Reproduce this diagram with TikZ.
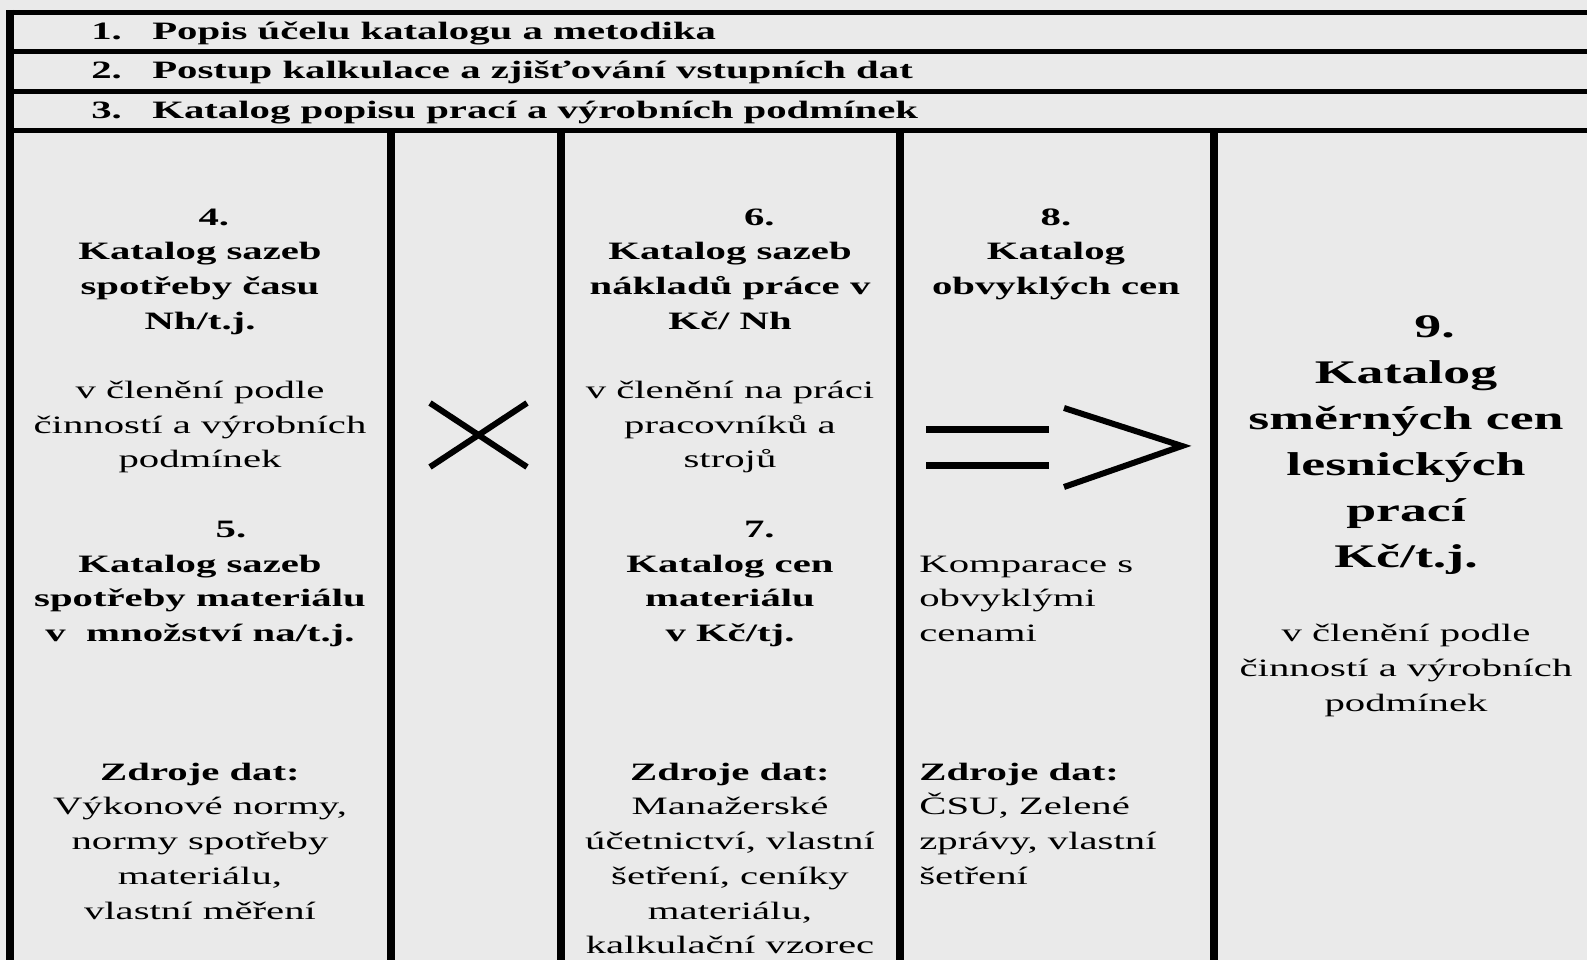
\documentclass[tikz,border=0pt]{standalone}
\usepackage{fontspec}
\setmainfont{Liberation Serif}
\definecolor{podklad}{RGB}{234,234,234}
\tikzset{
  linka/.style={line width=#1, draw=black},
  zahlavi/.style={anchor=base west, inner sep=0pt, xscale=1.63,
                  font=\bfseries\fontsize{25}{34.7}\selectfont},
  sloupec/.style={anchor=base, inner sep=0pt, align=center, xscale=1.63,
                  font=\fontsize{25}{34.7}\selectfont},
  sloupecL/.style={sloupec, anchor=base west, align=left},
  titul/.style={sloupec, font=\bfseries\fontsize{33}{46.1}\selectfont},
  znak/.style={line width=#1, draw=black, line join=miter},
}

\begin{document}
\begin{tikzpicture}[x=1pt, y=-1pt]
  \useasboundingbox (0,0) rectangle (1587,960);
  \fill[podklad] (0,0) rectangle (1587,960);
  % ramecek a linky tabulky
  \foreach \yy in {12.5,51.5,91.5,130.5}
    \draw[linka=5pt] (6,\yy) -- (1587,\yy);
  \draw[linka=8pt] (10,10) -- (10,960);
  \foreach \xx in {391,561,900,1214}
    \draw[linka=8pt] (\xx,130) -- (\xx,960);

  % zahlavi
  \node[zahlavi] (n1) at (91,40) {1.};
  \node[zahlavi] (h1) at (152,40) {Popis účelu katalogu a metodika};
  \node[zahlavi] (n2) at (91,79) {2.};
  \node[zahlavi] (h2) at (152,79) {Postup kalkulace a zjišťování vstupních dat};
  \node[zahlavi] (n3) at (91,118.5) {3.};
  \node[zahlavi] (h3) at (152,118.5) {Katalog popisu prací a výrobních podmínek};

  % sloupce (base = posledni radek)
  \node[sloupec] (k4) at (200,919) {\hspace*{17pt}\textbf{4.}\\
    \textbf{Katalog sazeb}\\ \textbf{spotřeby času}\\ \textbf{Nh/t.j.}\\ ~\\
    v členění podle\\ činností a výrobních\\ podmínek\\ ~\\
    \hspace*{38pt}\textbf{5.}\\
    \textbf{Katalog sazeb}\\ \textbf{spotřeby materiálu}\\ \textbf{v~ množství na/t.j.}\\
    ~\\ ~\\ ~\\
    \textbf{Zdroje dat:}\\ Výkonové normy,\\ normy spotřeby\\ materiálu,\\ vlastní měření};
  \node[sloupec] (k6) at (730,953.7) {\hspace*{36pt}\textbf{6.}\\
    \textbf{Katalog sazeb}\\ \textbf{nákladů práce v}\\ \textbf{Kč/ Nh}\\ ~\\
    v členění na práci\\ pracovníků a\\ strojů\\ ~\\
    \hspace*{36pt}\textbf{7.}\\
    \textbf{Katalog cen}\\ \textbf{materiálu}\\ \textbf{v Kč/tj.}\\
    ~\\ ~\\ ~\\
    \textbf{Zdroje dat:}\\ Manažerské\\ účetnictví, vlastní\\ šetření, ceníky\\ materiálu,\\
    kalkulační vzorec};
  \node[sloupec] (k8) at (1056,294.4) {\textbf{8.}\\ \textbf{Katalog}\\ \textbf{obvyklých cen}};
  \node[sloupecL] (kom) at (919,884.3) {Komparace s\\ obvyklými\\ cenami\\ ~\\ ~\\ ~\\
    \textbf{Zdroje dat:}\\ ČSU, Zelené\\ zprávy, vlastní\\ šetření};
  \node[titul] (k9) at (1406,567.5) {\hspace*{35pt}9.\\ Katalog\\ směrných cen\\ lesnických\\ prací\\ Kč/t.j.};
  \node[sloupec] (pod9) at (1406,711) {v členění podle\\ činností a výrobních\\ podmínek};

  % krat a vysledek
  \draw[znak=6pt] (430,403) -- (527,467);
  \draw[znak=6pt] (430,467) -- (527,403);
  \draw[znak=7pt] (926,429) -- (1049,429);
  \draw[znak=7pt] (926,465) -- (1049,465);
  \draw[znak=6pt] (1064,408) -- (1182,446) -- (1064,487);
\end{tikzpicture}
\end{document}
